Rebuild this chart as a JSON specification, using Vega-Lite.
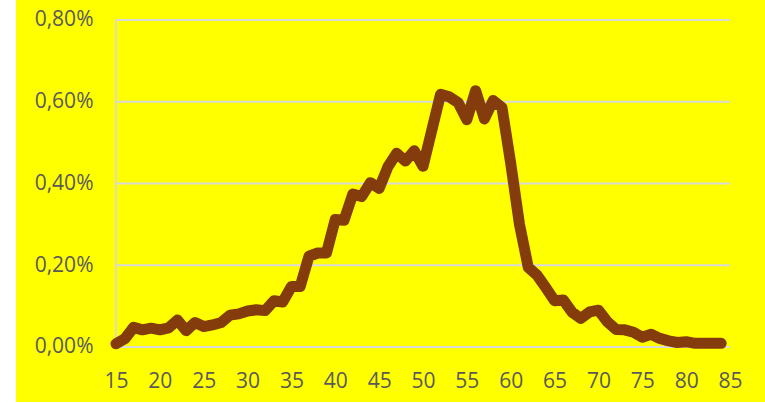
{
  "$schema": "https://vega.github.io/schema/vega-lite/v6.json",
  "width": 749,
  "height": 402,
  "autosize": {"type": "none"},
  "padding": {"left": 16, "top": 0, "right": 0, "bottom": 1},
  "background": "white",
  "config": {
    "view": {"fill": "#FFFF00", "stroke": null},
    "axis": {"labelFont": "Open Sans", "labelFontSize": 21, "labelColor": "#595959", "domain": false, "ticks": false, "tickSize": 0, "grid": false}
  },
  "datasets": {
    "series": [
      {"age": 15, "pct": 0.008}, {"age": 16, "pct": 0.02}, {"age": 17, "pct": 0.048}, {"age": 18, "pct": 0.042},
      {"age": 19, "pct": 0.046}, {"age": 20, "pct": 0.042}, {"age": 21, "pct": 0.047}, {"age": 22, "pct": 0.066},
      {"age": 23, "pct": 0.04}, {"age": 24, "pct": 0.06}, {"age": 25, "pct": 0.05}, {"age": 26, "pct": 0.054},
      {"age": 27, "pct": 0.06}, {"age": 28, "pct": 0.078}, {"age": 29, "pct": 0.081}, {"age": 30, "pct": 0.088},
      {"age": 31, "pct": 0.091}, {"age": 32, "pct": 0.089}, {"age": 33, "pct": 0.113}, {"age": 34, "pct": 0.11},
      {"age": 35, "pct": 0.148}, {"age": 36, "pct": 0.148}, {"age": 37, "pct": 0.222}, {"age": 38, "pct": 0.23},
      {"age": 39, "pct": 0.23}, {"age": 40, "pct": 0.312}, {"age": 41, "pct": 0.31}, {"age": 42, "pct": 0.374},
      {"age": 43, "pct": 0.368}, {"age": 44, "pct": 0.402}, {"age": 45, "pct": 0.388}, {"age": 46, "pct": 0.441},
      {"age": 47, "pct": 0.474}, {"age": 48, "pct": 0.455}, {"age": 49, "pct": 0.48}, {"age": 50, "pct": 0.442},
      {"age": 51, "pct": 0.53}, {"age": 52, "pct": 0.618}, {"age": 53, "pct": 0.612}, {"age": 54, "pct": 0.598},
      {"age": 55, "pct": 0.556}, {"age": 56, "pct": 0.627}, {"age": 57, "pct": 0.558}, {"age": 58, "pct": 0.603},
      {"age": 59, "pct": 0.586}, {"age": 60, "pct": 0.449}, {"age": 61, "pct": 0.3}, {"age": 62, "pct": 0.195},
      {"age": 63, "pct": 0.176}, {"age": 64, "pct": 0.145}, {"age": 65, "pct": 0.113}, {"age": 66, "pct": 0.115},
      {"age": 67, "pct": 0.085}, {"age": 68, "pct": 0.07}, {"age": 69, "pct": 0.086}, {"age": 70, "pct": 0.09},
      {"age": 71, "pct": 0.062}, {"age": 72, "pct": 0.043}, {"age": 73, "pct": 0.042}, {"age": 74, "pct": 0.036},
      {"age": 75, "pct": 0.024}, {"age": 76, "pct": 0.031}, {"age": 77, "pct": 0.021}, {"age": 78, "pct": 0.015},
      {"age": 79, "pct": 0.011}, {"age": 80, "pct": 0.013}, {"age": 81, "pct": 0.009}, {"age": 82, "pct": 0.009},
      {"age": 83, "pct": 0.009}, {"age": 84, "pct": 0.009}
    ],
    "grid": [{"level": 0}, {"level": 0.2}, {"level": 0.4}, {"level": 0.6}, {"level": 0.8}]
  },
  "layer": [
    {
      "data": {"name": "series"},
      "mark": {"type": "line", "color": "#843C0C", "strokeWidth": 10, "strokeCap": "round", "strokeJoin": "round", "opacity": 0},
      "encoding": {
        "x": {
          "field": "age", "type": "quantitative",
          "scale": {"domain": [3.6, 88.99], "nice": false, "zero": false},
          "axis": {"title": null, "offset": -55, "values": [15, 20, 25, 30, 35, 40, 45, 50, 55, 60, 65, 70, 75, 80, 85], "labelPadding": 23, "labelFlush": false, "labelOverlap": false}
        },
        "y": {
          "field": "pct", "type": "quantitative",
          "scale": {"domain": [-0.13456, 0.8489], "nice": false, "zero": false},
          "axis": {"title": null, "offset": -100, "values": [0, 0.2, 0.4, 0.6, 0.8], "labelPadding": 23, "labelFlush": false, "labelOverlap": false, "labelExpr": "replace(format(datum.value, '.2f'), '.', ',') + '%'"}
        }
      }
    },
    {
      "data": {"name": "grid"},
      "mark": {"type": "rule", "color": "#D9D9D9", "strokeWidth": 1.8},
      "encoding": {
        "x": {"datum": 15, "type": "quantitative"},
        "x2": {"datum": 85},
        "y": {"field": "level", "type": "quantitative"}
      }
    },
    {
      "data": {"name": "grid"},
      "mark": {"type": "rule", "color": "#D9D9D9", "strokeWidth": 1.8},
      "transform": [{"filter": "datum.level == 0"}],
      "encoding": {
        "x": {"datum": 15, "type": "quantitative"},
        "y": {"datum": 0, "type": "quantitative"},
        "y2": {"datum": 0.8}
      }
    },
    {
      "data": {"name": "series"},
      "mark": {"type": "line", "color": "#843C0C", "strokeWidth": 11, "strokeCap": "round", "strokeJoin": "round"},
      "encoding": {
        "x": {"field": "age", "type": "quantitative"},
        "y": {"field": "pct", "type": "quantitative"}
      }
    }
  ]
}
